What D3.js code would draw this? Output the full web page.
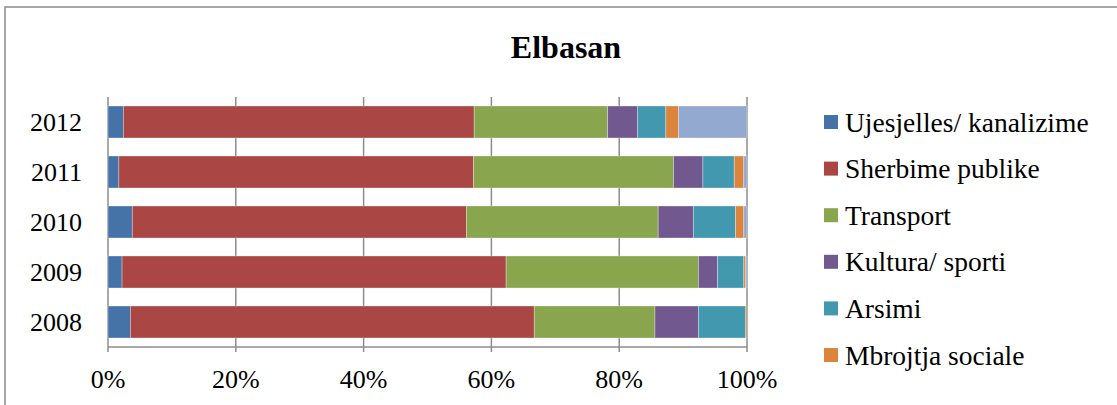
<!DOCTYPE html>
<html>
<head>
<meta charset="utf-8">
<script src="https://cdn.jsdelivr.net/npm/d3@7"></script>
<style>
  body { margin: 0; background: #fff; }
  svg { display: block; }
</style>
</head>
<body>
<svg id="chart"></svg>
<script>
// years, top to bottom as drawn
const years = ['2012', '2011', '2010', '2009', '2008'];
const series = ['Ujesjelles/ kanalizime', 'Sherbime publike', 'Transport', 'Kultura/ sporti', 'Arsimi', 'Mbrojtja sociale', 'Tjera'];
// shares in percent, one array per series, in the order of years
const ujesjelles = [2.4, 1.7, 3.8, 2.2, 3.5];
const sherbime   = [54.9, 55.5, 52.3, 60.1, 63.2];
const transport  = [20.9, 31.3, 30.0, 30.1, 18.9];
const kultura    = [4.7, 4.6, 5.5, 3.0, 6.8];
const arsimi     = [4.4, 4.9, 6.6, 4.1, 7.4];
const mbrojtja   = [2.0, 1.5, 1.3, 0.3, 0.2];
const tjera      = [10.7, 0.5, 0.5, 0.2, 0.0];
const xticks = [0, 0.2, 0.4, 0.6, 0.8, 1];
const colors = ['#4572A7', '#AA4643', '#89A54E', '#71588F', '#4198AF', '#DB843D', '#93A9CF'];

const width = 1117, height = 405;
const margin = {top: 97, left: 108, right: 370, bottom: 58};
const font = '"Liberation Serif", "Times New Roman", serif';

const svg = d3.select('#chart').attr('width', width).attr('height', height);

// chart frame
svg.append('path')
    .attr('d', `M5,${height} V7 H${width}`)
    .attr('fill', 'none')
    .attr('stroke', '#8a8a8a')
    .attr('stroke-width', 1.5);

svg.append('text')
    .attr('x', 566)
    .attr('y', 58)
    .attr('text-anchor', 'middle')
    .attr('font-family', font)
    .attr('font-size', 32)
    .attr('font-weight', 'bold')
    .text('Elbasan');

const rows = years.map((y, i) => {
    const r = {year: y};
    [ujesjelles, sherbime, transport, kultura, arsimi, mbrojtja, tjera].forEach((arr, k) => r[series[k]] = arr[i]);
    return r;
});

const stack = d3.stack().keys(series).offset(d3.stackOffsetExpand);
const stacked = stack(rows);

const x = d3.scaleLinear().domain([0, 1]).range([margin.left, 747]);
const y = d3.scaleBand().domain(years).range([margin.top, height - margin.bottom]).paddingInner(0.36).paddingOuter(0.18);

const g = svg.append('g');

// grid lines
g.selectAll('line.grid')
    .data(xticks)
    .join('line')
    .attr('class', 'grid')
    .attr('x1', d => x(d)).attr('x2', d => x(d))
    .attr('y1', margin.top).attr('y2', height - margin.bottom + 5)
    .attr('stroke', '#8c8c8c')
    .attr('stroke-width', 1.5);

// bottom axis line
g.append('line')
    .attr('x1', x(0)).attr('x2', x(1))
    .attr('y1', height - margin.bottom).attr('y2', height - margin.bottom)
    .attr('stroke', '#8c8c8c')
    .attr('stroke-width', 1.5);

g.selectAll('g.layer')
    .data(stacked)
    .join('g')
    .attr('class', 'layer')
    .attr('fill', (d, i) => colors[i])
    .selectAll('rect')
    .data(d => d)
    .join('rect')
    .attr('x', d => x(d[0]))
    .attr('width', d => Math.max(0, x(d[1]) - x(d[0])))
    .attr('y', d => y(d.data.year))
    .attr('height', y.bandwidth())
    .attr('stroke', '#fff')
    .attr('stroke-opacity', 0.45)
    .attr('stroke-width', 0.7);

// year labels
g.selectAll('text.year')
    .data(years)
    .join('text')
    .attr('class', 'year')
    .attr('x', 82)
    .attr('y', d => y(d) + y.bandwidth() / 2)
    .attr('dy', '0.35em')
    .attr('text-anchor', 'end')
    .attr('font-family', font)
    .attr('font-size', 26)
    .text(d => d);

// x tick labels
g.selectAll('text.xt')
    .data(xticks)
    .join('text')
    .attr('class', 'xt')
    .attr('x', d => x(d))
    .attr('y', 388)
    .attr('text-anchor', 'middle')
    .attr('font-family', font)
    .attr('font-size', 26)
    .text(d => d3.format('.0%')(d));

// legend (last series not listed)
const legend = svg.append('g')
    .selectAll('g')
    .data(series.slice(0, 6))
    .join('g')
    .attr('transform', (d, i) => `translate(824, ${122 + i * 46.6})`);

legend.append('rect')
    .attr('x', 0).attr('y', -7)
    .attr('width', 14).attr('height', 14)
    .attr('fill', (d, i) => colors[i]);

legend.append('text')
    .attr('x', 21)
    .attr('dy', '0.35em')
    .attr('font-family', font)
    .attr('font-size', 27.5)
    .text(d => d);
</script>
</body>
</html>
